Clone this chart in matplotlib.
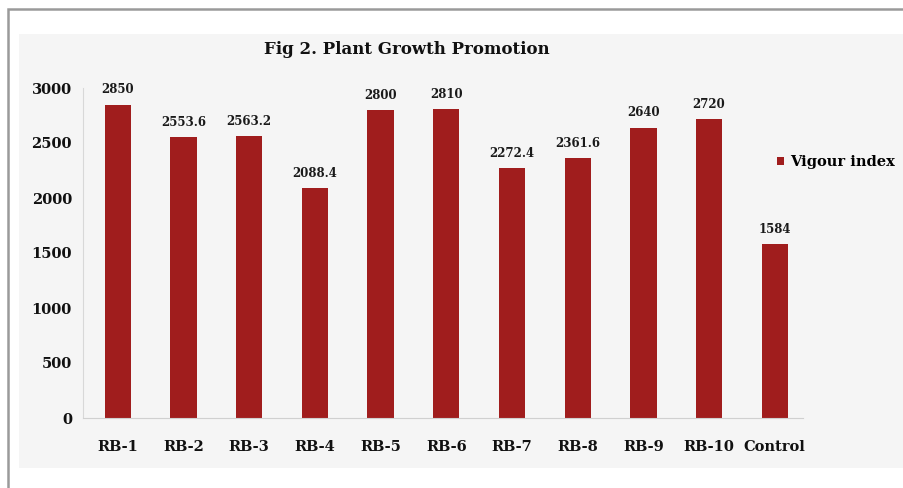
import matplotlib.pyplot as plt
from matplotlib.patches import Rectangle

# data
strains = ['RB-1', 'RB-2', 'RB-3', 'RB-4', 'RB-5', 'RB-6', 'RB-7', 'RB-8', 'RB-9', 'RB-10', 'Control']
vigour = [2850, 2553.6, 2563.2, 2088.4, 2800, 2810, 2272.4, 2361.6, 2640, 2720, 1584]
value_labels = ['2850', '2553.6', '2563.2', '2088.4', '2800', '2810', '2272.4', '2361.6', '2640', '2720', '1584']
yticks = [0, 500, 1000, 1500, 2000, 2500, 3000]

plt.rcParams['font.family'] = ['DejaVu Serif']
plt.rcParams['font.weight'] = 'bold'

W, H = 904, 488
fig = plt.figure(figsize=(W / 100, H / 100), dpi=100)
fig.patch.set_facecolor('white')

# outer frame and the pasted chart area
fig.patches.append(Rectangle((8 / W, -0.1), 1.1, 1 - 9 / H + 0.1, transform=fig.transFigure,
                             facecolor='white', edgecolor='#9a9a9a', linewidth=1.8, zorder=-10))
fig.patches.append(Rectangle((19 / W, 1 - 468 / H), 1, (468 - 34) / H, transform=fig.transFigure,
                             facecolor='#f5f5f5', edgecolor='none', zorder=-9))

ax = fig.add_axes([83 / W, 1 - 418 / H, (803 - 83) / W, (418 - 88) / H])
ax.set_facecolor('none')
ax.set_zorder(1)

x = range(len(strains))
bars = ax.bar(x, vigour, width=0.4, color='#a01d1d', label='Vigour index', zorder=2)

for xi, v, lab in zip(x, vigour, value_labels):
    ax.text(xi, v + 75, lab, ha='center', va='bottom', fontsize=8.5, fontweight='bold',
            color='#1a1a1a', clip_on=False)

ax.set_xlim(-0.53, 10.43)
ax.set_ylim(0, 3000)
ax.set_yticks(yticks)
ax.set_yticklabels([str(t) for t in yticks], fontsize=10.5, fontweight='bold')
ax.set_xticks(list(x))
ax.set_xticklabels(strains, fontsize=10.5, fontweight='bold')
ax.tick_params(axis='both', length=0, colors='#111111')
ax.tick_params(axis='y', pad=8)
ax.tick_params(axis='x', pad=16)

for s in ['top', 'right']:
    ax.spines[s].set_visible(False)
ax.spines['left'].set_color('#d8d8d8')
ax.spines['bottom'].set_color('#d0d0d0')

fig.text(407 / W, 1 - 49 / H, 'Fig 2. Plant Growth Promotion', ha='center', va='center',
         fontsize=12, fontweight='bold', color='#111111', zorder=5)

ax.legend(loc='center left', bbox_to_anchor=(764 / W, 1 - 162 / H), bbox_transform=fig.transFigure,
          frameon=False, handlelength=0.5, handleheight=0.5, handletextpad=0.4,
          prop={'size': 10.5, 'weight': 'bold'})

fig.savefig('out.png', dpi=100)
